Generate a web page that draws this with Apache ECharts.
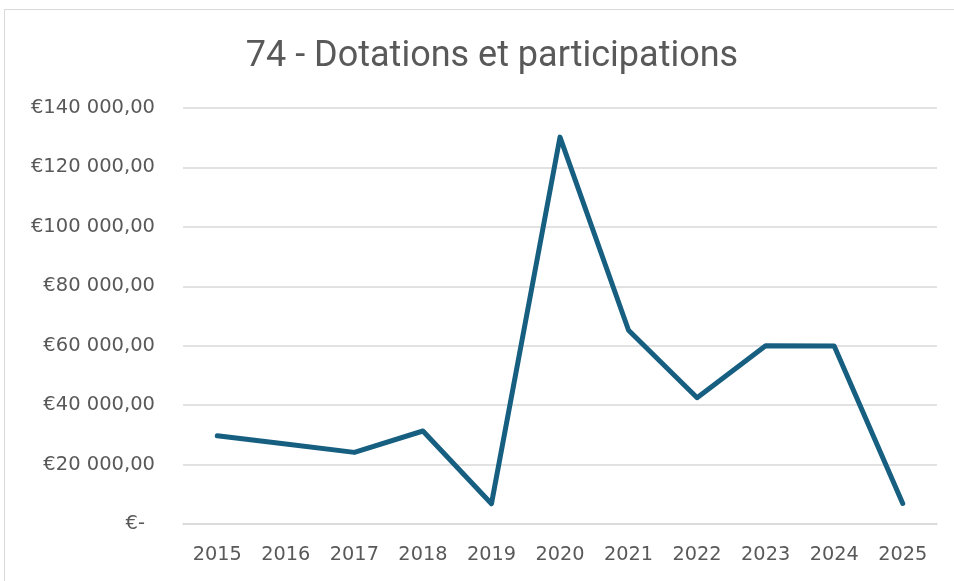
<!DOCTYPE html>
<html>
<head>
<meta charset="utf-8">
<script src="https://cdn.jsdelivr.net/npm/echarts@6/dist/echarts.min.js"></script>
<style>
    html, body { margin: 0; padding: 0; background: #ffffff; overflow: hidden; }
    #frame { position: absolute; left: 4px; top: 9px; width: 980px; height: 620px; border: 1px solid #d9d9d9; box-sizing: border-box; }
    #echart { position: absolute; left: 0; top: 0; width: 954px; height: 581px; }
</style>
</head>
<body>
<div id="frame"></div>
<div id="echart"></div>
<script>
const YearList = ['2015', '2016', '2017', '2018', '2019', '2020', '2021', '2022', '2023', '2024', '2025'];
const ValueList = [29700, 26900, 24100, 31300, 6800, 130200, 65200, 42500, 60000, 59900, 6900];
const TitleText = '74 - Dotations et participations';

function format_euro(value) {
    if (value === 0) {
        return '{z|€-}';
    }
    let s = String(Math.round(value)).replace(/\B(?=(\d{3})+(?!\d))/g, ' ');
    return '€' + s + ',00';
}

var option = {
    animation: false,
    title: {
        text: TitleText,
        left: 487,
        top: 34,
        textAlign: 'center',
        textStyle: {
            fontFamily: 'Roboto',
            fontSize: 36,
            fontWeight: 'normal',
            color: '#595959'
        }
    },
    grid: {
        top: 108,
        left: 183,
        right: 17,
        bottom: 57
    },
    xAxis: {
        type: 'category',
        data: YearList,
        boundaryGap: true,
        axisTick: { show: false },
        axisLine: {
            lineStyle: { color: '#d9d9d9', width: 1.5 }
        },
        axisLabel: {
            fontFamily: 'DejaVu Sans',
            fontSize: 19.3,
            color: '#595959',
            margin: 21
        }
    },
    yAxis: {
        type: 'value',
        min: 0,
        max: 140000,
        interval: 20000,
        splitLine: {
            lineStyle: { color: '#d9d9d9', width: 1.5 }
        },
        axisLine: { show: false },
        axisTick: { show: false },
        axisLabel: {
            fontFamily: 'DejaVu Sans',
            fontSize: 19.5,
            color: '#595959',
            margin: 28,
            formatter: format_euro,
            rich: {
                z: {
                    fontFamily: 'DejaVu Sans',
                    fontSize: 19.5,
                    color: '#595959',
                    padding: [0, 10, 0, 0]
                }
            }
        }
    },
    series: [{
        name: TitleText,
        type: 'line',
        data: ValueList,
        symbol: 'none',
        lineStyle: {
            color: '#175f80',
            width: 5,
            join: 'round',
            cap: 'round'
        }
    }]
};

var lineChart = echarts.init(document.getElementById('echart'));
lineChart.setOption(option);
</script>
</body>
</html>
